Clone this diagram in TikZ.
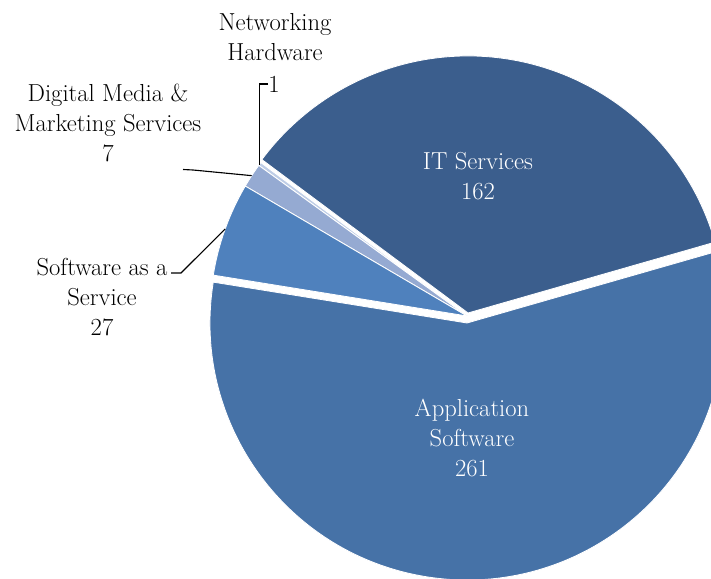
\documentclass[tikz,border=0pt]{standalone}
\usepackage{tikz}
\usetikzlibrary{positioning,calc}
\definecolor{itblue}{RGB}{59,94,141}
\definecolor{appblue}{RGB}{70,114,167}
\definecolor{saasblue}{RGB}{79,129,189}
\definecolor{digblue}{RGB}{149,170,210}
\definecolor{netblue}{RGB}{190,205,230}
% one pie slice: centre, start angle, end angle, colour
\newcommand\pieslice[4]{%
\filldraw[fill=#4,draw=white,line width=0.6pt] (#1) -- ++(#2:\R) arc[start angle=#2,end angle=#3,radius=\R] -- cycle;
}

\begin{document}
\begin{tikzpicture}[x=0.025cm,y=0.025cm,
  every node/.style={font=\fontsize{17.5pt}{21.3pt}\selectfont,align=center,inner sep=0pt},
  inlabel/.style={text=white},
  leader/.style={draw=black,line width=0.8pt}]
	%% some definitions
	\def\R{257} % pie radius
	
	\clip (0,0) rectangle (711,579);
	
	\coordinate (C) at (467,263);   % centre of the pie
	\coordinate (Cit) at (468,266); % IT Services, pulled out a little
	\coordinate (Capp) at (467,256); % Application Software, pulled out
	
	\pieslice{Capp}{170.85}{376}{appblue}
	\pieslice{Cit}{16}{143.34}{itblue}
	\pieslice{C}{143.34}{144.13}{netblue}
	\pieslice{C}{144.13}{149.63}{digblue}
	\pieslice{C}{149.63}{170.85}{saasblue}
	
	% points where the leaders touch the slices
	\coordinate (netpt) at ($(C)+(143.9:\R)$);
	\coordinate (digpt) at ($(C)+(146.9:\R)$);
	\coordinate (saaspt) at ($(C)+(160.2:\R)$);
	% leader bends
	\coordinate (digbend) at (193,409);
	\coordinate (saasbend) at (181,306);
	
	% labels inside
	\node[inlabel] (it) at (478,403) {IT Services\\162};
	\node[inlabel] (app) at (472,141) {Application\\Software\\261};
	
	% labels outside
	\node (netname) at (275,542) {Networking\\Hardware};
	\node[anchor=west] (netval) at (268,495) {1};
	\node (digname) at (108,456) {Digital Media \&\\Marketing Services\\7};
	\node (saasname) at (102,282) {Software as a\\Service\\27};
	\coordinate (digstart) at (183,409.5);
	\coordinate (saasstart) at (171,306);
	
	\draw[leader] (netval.west) -| (netpt);
	\draw[leader] (digstart) -- (digbend) -- (digpt);
	\draw[leader] (saasstart) -- (saasbend) -- (saaspt);
	    	
\end{tikzpicture}
\end{document}
